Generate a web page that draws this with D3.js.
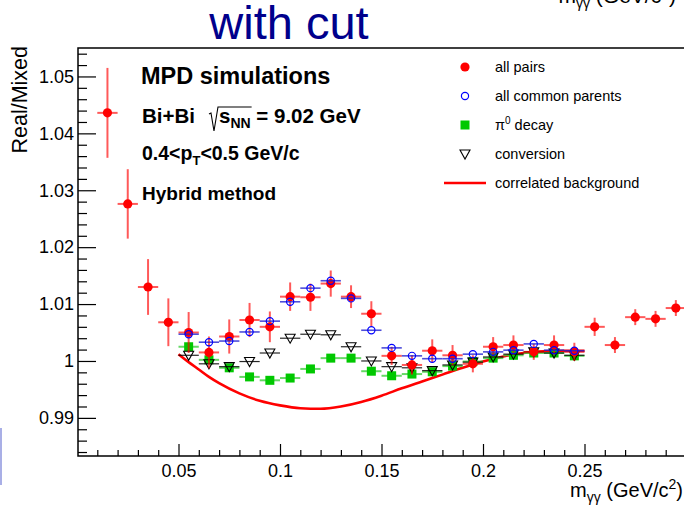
<!DOCTYPE html>
<html>
<head>
<meta charset="utf-8">
<script src="https://cdn.jsdelivr.net/npm/d3@7/dist/d3.min.js"></script>
<style>
  html, body { margin: 0; padding: 0; background: #fff; }
  svg { display: block; font-family: "Liberation Sans", Arial, Helvetica, sans-serif; }
</style>
</head>
<body>
<svg id="chart" width="684" height="505"></svg>
<script>
// Bin centres of the invariant-mass histogram (GeV/c^2)
const massAll = [0.015, 0.025, 0.035, 0.045, 0.055, 0.065, 0.075, 0.085, 0.095, 0.105,
                 0.115, 0.125, 0.135, 0.145, 0.155, 0.165, 0.175, 0.185, 0.195, 0.205,
                 0.215, 0.225, 0.235, 0.245, 0.255, 0.265, 0.275, 0.285, 0.295];
const massSub = [0.055, 0.065, 0.075, 0.085, 0.095, 0.105, 0.115, 0.125, 0.135, 0.145,
                 0.155, 0.165, 0.175, 0.185, 0.195, 0.205, 0.215, 0.225, 0.235, 0.245];
const binHalfWidth = 0.005;

// Real/Mixed ratio: all pairs and its statistical uncertainty
const allPairs = [1.0436, 1.0276, 1.0130, 1.0068, 1.0050, 1.0015, 1.0043, 1.0072, 1.0060, 1.0113,
                  1.0112, 1.0136, 1.0113, 1.0083, 1.0009, 0.9993, 1.0018, 1.0010, 0.9995, 1.0025,
                  1.0028, 1.0016, 1.0028, 1.0016, 1.0060, 1.0028, 1.0077, 1.0074, 1.0093];
const allPairsErr = [0.0079, 0.0061, 0.0049, 0.0042, 0.0036, 0.0028, 0.0030, 0.0030, 0.0027, 0.0025,
                     0.0024, 0.0023, 0.0020, 0.0022, 0.0016, 0.0017, 0.0020, 0.0018, 0.0015, 0.0017,
                     0.0017, 0.0014, 0.0017, 0.0016, 0.0016, 0.0014, 0.0014, 0.0014, 0.0014];
// Pairs with a common parent, split by origin
const commonParents = [1.0047, 1.0033, 1.0035, 1.0051, 1.0070, 1.0104, 1.0128, 1.0141, 1.0110, 1.0054,
                       1.0023, 1.0009, 1.0004, 1.0004, 1.0012, 1.0016, 1.0019, 1.0030, 1.0019, 1.0018];
const pi0Decay = [1.0025, 1.0002, 0.9988, 0.9972, 0.9966, 0.9970, 0.9986, 1.0005, 1.0005, 0.9982,
                  0.9974, 0.9977, 0.9981, 0.9991, 0.9999, 1.0005, 1.0010, 1.0014, 1.0014, 1.0009];
const conversion = [1.0010, 0.9995, 0.9990, 0.9999, 1.0014, 1.0040, 1.0047, 1.0046, 1.0025, 1.0000,
                    0.9990, 0.9988, 0.9983, 0.9993, 0.9998, 1.0007, 1.0012, 1.0016, 1.0014, 1.0010];
// Correlated background curve
const bgMass = [0.050, 0.055, 0.060, 0.065, 0.070, 0.080, 0.090, 0.100, 0.110, 0.120, 0.130,
                0.140, 0.150, 0.160, 0.170, 0.180, 0.190, 0.200, 0.210, 0.220, 0.230, 0.240, 0.250];
const bgRatio = [1.0012, 0.9998, 0.9985, 0.9972, 0.9961, 0.9943, 0.9930, 0.9922, 0.9917, 0.9916, 0.9920,
                 0.9928, 0.9939, 0.9952, 0.9964, 0.9976, 0.9988, 0.9999, 1.0008, 1.0014, 1.0017, 1.0018, 1.0018];

// Axis ticks
const xMajor = [0.05, 0.10, 0.15, 0.20, 0.25];
const yMajor = [0.99, 1.00, 1.01, 1.02, 1.03, 1.04, 1.05];

const svg = d3.select("#chart");
const x = d3.scaleLinear().domain([0, 0.3]).range([77, 686]);
const y = d3.scaleLinear().domain([0.9833, 1.055]).range([456, 48]);

const frameL = 78, frameT = 48, frameB = 456, frameR = 690;

// Headline above the pad
svg.append("text").attr("x", 289).attr("y", 39).attr("text-anchor", "middle")
  .attr("font-size", 47).attr("fill", "#00008c").text("with cut");

// Axis title of the neighbouring pad, clipped by the page edge
const topTitle = svg.append("text").attr("x", 676).attr("y", 3).attr("text-anchor", "end")
  .attr("font-size", 21).attr("fill", "#000");
topTitle.append("tspan").text("m");
topTitle.append("tspan").attr("dy", 5).attr("font-size", 14).text("γγ");
topTitle.append("tspan").attr("dy", -5).text(" (GeV/c");
topTitle.append("tspan").attr("dy", -8).attr("font-size", 14).text("2");
topTitle.append("tspan").attr("dy", 8).text(")");

// Edge of a neighbouring graphic
svg.append("rect").attr("x", 0).attr("y", 428).attr("width", 2).attr("height", 57).attr("fill", "#a9afe6");

// Minor and major ticks, pointing into the frame
const xMinor = d3.range(1, 30).map(i => i / 100).filter(v => !xMajor.some(m => Math.abs(m - v) < 1e-9));
const yMinor = d3.range(492, 528).map(i => i / 500).filter(v => v > 0.9833 && v < 1.055 && !yMajor.some(m => Math.abs(m - v) < 1e-9));

const fmt = v => String(+v.toFixed(2));

const gx = svg.append("g").attr("transform", `translate(0,${frameB})`);
gx.call(d3.axisBottom(x).tickValues(xMinor).tickSize(-6).tickFormat(""));
gx.append("g").call(d3.axisBottom(x).tickValues(xMajor).tickSize(-12).tickPadding(8).tickFormat(fmt));
gx.selectAll(".domain").remove();

const gy = svg.append("g").attr("transform", `translate(${frameL},0)`);
gy.call(d3.axisLeft(y).tickValues(yMinor).tickSize(-9).tickFormat(""));
gy.append("g").call(d3.axisLeft(y).tickValues(yMajor).tickSize(-18).tickPadding(4).tickFormat(fmt));
gy.selectAll(".domain").remove();

svg.selectAll(".tick line").attr("stroke", "#000").attr("stroke-width", 1.2);
svg.selectAll(".tick text").attr("font-size", 18).attr("fill", "#000")
  .attr("font-family", "Liberation Sans, Arial, sans-serif");

// Frame
svg.append("path").attr("fill", "none").attr("stroke", "#000").attr("stroke-width", 1.5)
  .attr("d", `M${frameR},${frameT}H${frameL}V${frameB}H${frameR}`);

// Axis titles
const xt = svg.append("text").attr("x", 683).attr("y", 497).attr("text-anchor", "end").attr("font-size", 20);
xt.append("tspan").text("m");
xt.append("tspan").attr("dy", 5).attr("font-size", 14).text("γγ");
xt.append("tspan").attr("dy", -5).text(" (GeV/c");
xt.append("tspan").attr("dy", -8).attr("font-size", 14).text("2");
xt.append("tspan").attr("dy", 8).text(")");

svg.append("text").attr("transform", "translate(27,46) rotate(-90)").attr("text-anchor", "end")
  .attr("font-size", 21.5).text("Real/Mixed");

// Correlated background
const line = d3.line().x(d => x(d[0])).y(d => y(d[1])).curve(d3.curveMonotoneX);
svg.append("path").datum(d3.zip(bgMass, bgRatio)).attr("fill", "none")
  .attr("stroke", "#ff0000").attr("stroke-width", 2.6).attr("d", line);

// Marker drawing helpers
function marker(g, type, cx, cy) {
  if (type === "dot") {
    g.append("circle").attr("cx", cx).attr("cy", cy).attr("r", 4.6).attr("fill", "#ff0000");
  } else if (type === "ring") {
    g.append("circle").attr("cx", cx).attr("cy", cy).attr("r", 3.6).attr("fill", "none")
      .attr("stroke", "#0000ff").attr("stroke-width", 1.2);
  } else if (type === "square") {
    g.append("rect").attr("x", cx - 4.5).attr("y", cy - 4.5).attr("width", 9).attr("height", 9).attr("fill", "#00c800");
  } else if (type === "tri") {
    g.append("path").attr("d", `M${cx - 5},${cy - 4}L${cx + 5},${cy - 4}L${cx},${cy + 5}Z`)
      .attr("fill", "none").attr("stroke", "#000").attr("stroke-width", 1.1);
  }
}

function series(ms, vs, errs, type, barColor, barWidth, barOpacity) {
  const g = svg.append("g");
  ms.forEach((m, i) => {
    const cy = y(vs[i]);
    g.append("line").attr("x1", x(m - binHalfWidth)).attr("x2", x(m + binHalfWidth))
      .attr("y1", cy).attr("y2", cy).attr("stroke", barColor).attr("stroke-width", barWidth).attr("stroke-opacity", barOpacity);
    if (errs) {
      g.append("line").attr("x1", x(m)).attr("x2", x(m))
        .attr("y1", y(vs[i] - errs[i])).attr("y2", y(vs[i] + errs[i]))
        .attr("stroke", barColor).attr("stroke-width", barWidth).attr("stroke-opacity", barOpacity);
    }
    marker(g, type, x(m), cy);
  });
}

series(massSub, pi0Decay, null, "square", "#3fd03f", 2, 0.8);
series(massSub, conversion, null, "tri", "#000", 1.2, 0.85);
series(massAll, allPairs, allPairsErr, "dot", "#ff0000", 2, 0.65);
series(massSub, commonParents, null, "ring", "#2020d0", 1.6, 0.8);

// Legend
const legend = [
  { type: "dot", label: "all pairs" },
  { type: "ring", label: "all common parents" },
  { type: "square", label: "π", sup: "0", rest: " decay" },
  { type: "tri", label: "conversion" },
  { type: "curve", label: "correlated background" }
];
const lg = svg.append("g");
legend.forEach((d, i) => {
  const cy = 67 + i * 29;
  if (d.type === "curve") {
    lg.append("line").attr("x1", 444).attr("x2", 486).attr("y1", cy).attr("y2", cy)
      .attr("stroke", "#ff0000").attr("stroke-width", 2.6);
  } else {
    marker(lg, d.type, 465, cy);
  }
  const t = lg.append("text").attr("x", 495).attr("y", cy + 5).attr("font-size", 14.5);
  t.append("tspan").text(d.label);
  if (d.sup) {
    t.append("tspan").attr("dy", -6).attr("font-size", 10).text(d.sup);
    t.append("tspan").attr("dy", 6).text(d.rest);
  }
});

// Annotations
const ann = svg.append("g").attr("font-weight", "bold").attr("fill", "#000");
ann.append("text").attr("x", 141).attr("y", 84).attr("font-size", 23.5).text("MPD simulations");

const energy = ann.append("text").attr("x", 142).attr("y", 123).attr("font-size", 20.5);
energy.append("tspan").text("Bi+Bi");
energy.append("tspan").attr("dx", 24).text("s");
energy.append("tspan").attr("dy", 5).attr("font-size", 14).text("NN");
energy.append("tspan").attr("dy", -5).text(" = 9.02 GeV");
{
  const node = energy.node();
  const sx = node.getStartPositionOfChar(5).x;
  const ex = node.getEndPositionOfChar(7).x;
  const b = 123;
  ann.append("path").attr("fill", "none").attr("stroke", "#000").attr("stroke-width", 1.1)
    .attr("d", `M${sx - 10},${b - 9}L${sx - 8},${b - 10}L${sx - 5},${b + 8}L${sx - 1},${b - 16}H${ex + 1}`);
}

const pt = ann.append("text").attr("x", 142).attr("y", 160).attr("font-size", 19.5);
pt.append("tspan").text("0.4<p");
pt.append("tspan").attr("dy", 5).attr("font-size", 13).text("T");
pt.append("tspan").attr("dy", -5).text("<0.5 GeV/c");

ann.append("text").attr("x", 142).attr("y", 200).attr("font-size", 19).text("Hybrid method");
</script>
</body>
</html>
